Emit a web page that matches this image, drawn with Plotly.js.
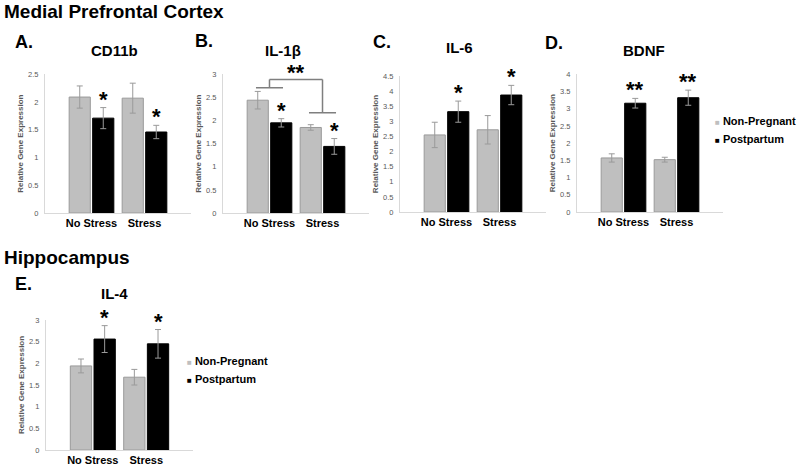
<!DOCTYPE html>
<html>
<head>
<meta charset="utf-8">
<script src="https://cdn.plot.ly/plotly-3.0.1.min.js"></script>
<style>html,body{margin:0;padding:0;background:#fff;}#chart{width:800px;height:466px;}</style>
</head>
<body>
<div id="chart"></div>
<script>
// ---- data ----
const groups = ['No Stress', 'Stress'];
const seriesNames = ['Non-Pregnant', 'Postpartum'];

const cd11bNonPreg = [2.09, 2.07];
const cd11bNonPregErr = [0.20, 0.27];
const cd11bPost = [1.71, 1.46];
const cd11bPostErr = [0.19, 0.12];
const cd11bSig = ['*', '*'];

const il1bNonPreg = [2.44, 1.85];
const il1bNonPregErr = [0.19, 0.06];
const il1bPost = [1.95, 1.44];
const il1bPostErr = [0.09, 0.17];
const il1bSig = ['*', '*'];
const il1bBracketLevels = [2.71, 2.17];
const il1bBracketTop = 2.89;
const il1bBracketLabel = '**';

const il6NonPreg = [2.55, 2.72];
const il6NonPregErr = [0.42, 0.47];
const il6Post = [3.32, 3.87];
const il6PostErr = [0.35, 0.32];
const il6Sig = ['*', '*'];

const bdnfNonPreg = [1.57, 1.52];
const bdnfNonPregErr = [0.12, 0.07];
const bdnfPost = [3.16, 3.32];
const bdnfPostErr = [0.14, 0.22];
const bdnfSig = ['**', '**'];

const il4NonPreg = [1.94, 1.68];
const il4NonPregErr = [0.16, 0.18];
const il4Post = [2.56, 2.45];
const il4PostErr = [0.31, 0.33];
const il4Sig = ['*', '*'];

const yMax = [2.5, 3, 4.5, 4, 3];

// ---- layout helpers ----
const W = 800, H = 466;
const px = v => v / W;
const py = v => 1 - v / H;
const FONT = 'Liberation Sans, Arial, sans-serif';

const panels = [
  {title: 'CD11b', letter: 'A.', np: cd11bNonPreg, npe: cd11bNonPregErr, pp: cd11bPost, ppe: cd11bPostErr, sig: cd11bSig,
   box: [45, 191, 74.3, 213], titlePos: [115, 51], letterPos: [13, 42], legend: null},
  {title: 'IL-1β', letter: 'B.', np: il1bNonPreg, npe: il1bNonPregErr, pp: il1bPost, ppe: il1bPostErr, sig: il1bSig,
   box: [223, 369, 74.3, 213], titlePos: [283, 51], letterPos: [193, 41], legend: null},
  {title: 'IL-6', letter: 'C.', np: il6NonPreg, npe: il6NonPregErr, pp: il6Post, ppe: il6PostErr, sig: il6Sig,
   box: [400, 546, 76, 212], titlePos: [460, 48], letterPos: [371, 42], legend: null},
  {title: 'BDNF', letter: 'D.', np: bdnfNonPreg, npe: bdnfNonPregErr, pp: bdnfPost, ppe: bdnfPostErr, sig: bdnfSig,
   box: [577, 723, 74.3, 212], titlePos: [644, 51], letterPos: [543, 43], legend: [713, 120.7, 18.3]},
  {title: 'IL-4', letter: 'E.', np: il4NonPreg, npe: il4NonPregErr, pp: il4Post, ppe: il4PostErr, sig: il4Sig,
   box: [46, 193, 320, 450], titlePos: [115, 293], letterPos: [13, 284], legend: [185, 361, 18.3]}
];

const xIdx = groups.map((g, i) => i);
const traces = [];
const annotations = [];
const shapes = [];
const layout = {
  width: W, height: H,
  margin: {l: 0, r: 0, t: 0, b: 0},
  paper_bgcolor: '#ffffff', plot_bgcolor: '#ffffff',
  showlegend: false,
  barmode: 'group',
  bargap: 0.113,
  bargroupgap: 0.1,
  font: {family: FONT, color: '#000'},
  annotations: annotations,
  shapes: shapes
};

// section titles
annotations.push({text: '<b>Medial Prefrontal Cortex</b>', xref: 'paper', yref: 'paper', x: px(2), y: py(12),
  xanchor: 'left', yanchor: 'middle', showarrow: false, font: {size: 19, family: FONT, color: '#000'}});
annotations.push({text: '<b>Hippocampus</b>', xref: 'paper', yref: 'paper', x: px(2), y: py(257),
  xanchor: 'left', yanchor: 'middle', showarrow: false, font: {size: 19, family: FONT, color: '#000'}});

const XSPAN = 1.377;
panels.forEach((p, k) => {
  const n = k + 1;
  const xa = 'x' + (n === 1 ? '' : n);
  const ya = 'y' + (n === 1 ? '' : n);
  const xKey = 'xaxis' + (n === 1 ? '' : n);
  const yKey = 'yaxis' + (n === 1 ? '' : n);
  const [x0, x1, yTop, yBot] = p.box;

  traces.push({
    type: 'bar', x: xIdx, y: p.np, name: seriesNames[0], xaxis: xa, yaxis: ya,
    marker: {color: '#bfbfbf', line: {color: '#9a9a9a', width: 1}},
    error_y: {type: 'data', array: p.npe, visible: true, color: '#9a9a9a', thickness: 1, width: 3},
    hoverinfo: 'skip'
  });
  traces.push({
    type: 'bar', x: xIdx, y: p.pp, name: seriesNames[1], xaxis: xa, yaxis: ya,
    marker: {color: '#000000', line: {color: '#000000', width: 1}},
    error_y: {type: 'data', array: p.ppe, visible: true, color: '#9a9a9a', thickness: 1, width: 3},
    hoverinfo: 'skip'
  });

  layout[xKey] = {
    domain: [px(x0), px(x1)], anchor: ya, type: 'linear',
    range: [0.5 - XSPAN, 0.5 + XSPAN],
    tickvals: xIdx, ticktext: groups.map(g => '<b>' + g + '</b>'),
    showline: true, linecolor: '#d9d9d9', linewidth: 1,
    showgrid: false, zeroline: false, ticks: '',
    tickfont: {size: 11, family: FONT, color: '#000'}, fixedrange: true
  };
  layout[yKey] = {
    domain: [py(yBot), py(yTop)], anchor: xa,
    range: [0, yMax[k]], dtick: 0.5, tick0: 0,
    showline: true, linecolor: '#d9d9d9', linewidth: 1,
    showgrid: false, zeroline: false, ticks: '',
    ticklabelstandoff: 4,
    tickfont: {size: 7.5, family: FONT, color: '#595959'},
    title: {text: '<b>Relative Gene Expression</b>', standoff: 3, font: {size: 8, family: FONT, color: '#595959'}},
    fixedrange: true
  };

  // panel title & letter
  annotations.push({text: '<b>' + p.title + '</b>', xref: 'paper', yref: 'paper', x: px(p.titlePos[0]), y: py(p.titlePos[1]),
    xanchor: 'center', yanchor: 'middle', showarrow: false, font: {size: 15, family: FONT, color: '#000'}});
  annotations.push({text: '<b>' + p.letter + '</b>', xref: 'paper', yref: 'paper', x: px(p.letterPos[0]), y: py(p.letterPos[1]),
    xanchor: 'left', yanchor: 'middle', showarrow: false, font: {size: 18, family: FONT, color: '#000'}});

  // significance marks above postpartum bars
  const slot = (1 - layout.bargap) / 2;
  p.sig.forEach((s, i) => {
    if (!s) return;
    annotations.push({text: '<b>' + s + '</b>', xref: xa, yref: ya, x: xIdx[i] + slot / 2, y: p.pp[i] + p.ppe[i],
      xanchor: 'center', yanchor: 'bottom', yshift: -6, showarrow: false,
      font: {size: 22, family: FONT, color: '#000'}});
  });

  // legend
  if (p.legend) {
    const [lx, ly, dy] = p.legend;
    const cols = ['#bfbfbf', '#000000'];
    seriesNames.forEach((nm, i) => {
      annotations.push({text: '<span style="color:' + cols[i] + ';font-size:8px">■</span> <b>' + nm + '</b>',
        xref: 'paper', yref: 'paper', x: px(lx), y: py(ly + i * dy), xanchor: 'left', yanchor: 'middle',
        showarrow: false, font: {size: 11, family: FONT, color: '#000'}});
    });
  }
});

// IL-1β group bracket
{
  const xa = 'x2', ya = 'y2';
  const half = 0.255;
  const line = {color: '#7f7f7f', width: 1.5};
  il1bBracketLevels.forEach((lv, i) => {
    shapes.push({type: 'line', xref: xa, yref: ya, x0: xIdx[i] - half, x1: xIdx[i] + half, y0: lv, y1: lv, line: line});
    shapes.push({type: 'line', xref: xa, yref: ya, x0: xIdx[i], x1: xIdx[i], y0: lv, y1: il1bBracketTop, line: line});
  });
  shapes.push({type: 'line', xref: xa, yref: ya, x0: xIdx[0], x1: xIdx[1], y0: il1bBracketTop, y1: il1bBracketTop, line: line});
  annotations.push({text: '<b>' + il1bBracketLabel + '</b>', xref: xa, yref: ya, x: (xIdx[0] + xIdx[1]) / 2, y: il1bBracketTop,
    xanchor: 'center', yanchor: 'bottom', yshift: -8, showarrow: false, font: {size: 22, family: FONT, color: '#000'}});
}

Plotly.newPlot('chart', traces, layout, {staticPlot: true, displayModeBar: false});
</script>
</body>
</html>
